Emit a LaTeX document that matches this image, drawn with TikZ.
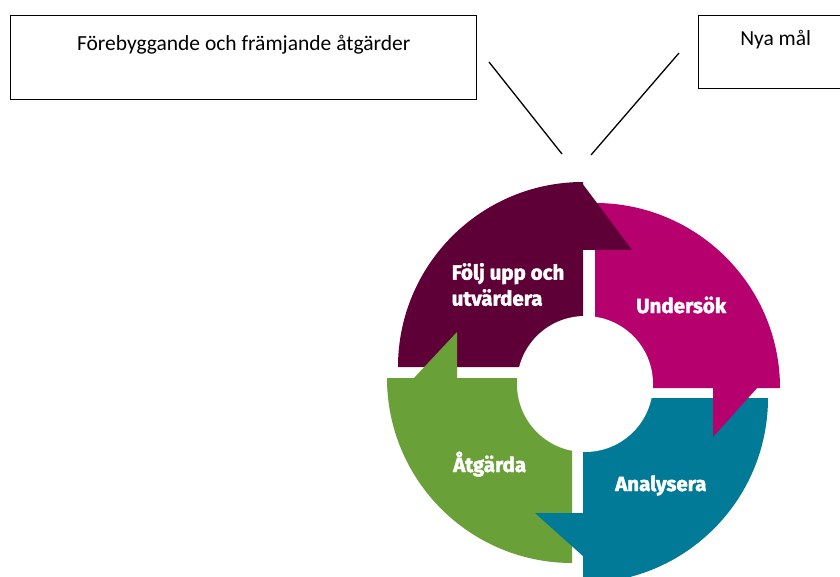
\documentclass[tikz,border=0pt]{standalone}
\usepackage{fontspec}
\setmainfont{Carlito}
\newfontfamily\lblfont{Fira Sans}[BoldFeatures={FakeBold=2}]
\definecolor{cMaroon}{RGB}{94,0,55}
\definecolor{cMagenta}{RGB}{182,0,110}
\definecolor{cTeal}{RGB}{0,122,150}
\definecolor{cGreen}{RGB}{106,160,56}
\tikzset{
  notebox/.style={draw=black, line width=1.4pt, fill=white, rectangle, anchor=north west, inner sep=0pt,
    font=\fontsize{21.5}{26}\selectfont},
  pointer/.style={draw=black, line width=1.3pt},
  ringlabel/.style={text=white, inner sep=0pt, font=\lblfont\fontsize{20.5}{26}\selectfont\bfseries},
}
\begin{document}
\begin{tikzpicture}[x=1pt,y=-1pt]
\clip (0,0) rectangle (840,577);
\fill[white] (0,0) rectangle (840,577);
% boxes
\node[notebox, minimum width=466pt, minimum height=84pt, text height=15pt, text depth=29pt] (prev) at (10,15) {Förebyggande och främjande åtgärder};
\node[notebox, minimum width=154pt, minimum height=73pt, text height=14pt, text depth=27pt] (goals) at (698,15) {Nya mål};
% pointer lines
\coordinate (l1a) at (489,62);
\coordinate (l1b) at (562,154);
\coordinate (l2a) at (679,53);
\coordinate (l2b) at (591,155);
\draw[pointer] (l1a) -- (l1b);
\draw[pointer] (l2a) -- (l2b);
% ring pieces
\def\RR{185}
\fill[cMaroon]  (583,367) -- ++(-\RR,0) arc[start angle=180,end angle=270,radius=\RR] -- cycle;
\fill[cMagenta] (595,388) -- ++(0,-\RR) arc[start angle=270,end angle=360,radius=\RR] -- cycle;
\fill[cTeal]    (583,398) -- ++(\RR,0) arc[start angle=0,end angle=90,radius=\RR] -- cycle;
\fill[cGreen]   (572,378) -- ++(0,\RR) arc[start angle=90,end angle=180,radius=\RR] -- cycle;
% hole
\fill[white] (585,384) circle[radius=68];
% arrowheads
\fill[cMaroon]  (582,183) -- (582,250) -- (632,250) -- cycle;
\fill[cMagenta] (713,387) -- (758,387) -- (713,437) -- cycle;
\fill[cTeal]    (584,513) -- (584,557) -- (535,513) -- cycle;
\fill[cGreen]   (457,379) -- (413,379) -- (457,332) -- cycle;
% labels
\node[ringlabel, align=left] (follow) at (508,284.5) {Följ upp och\\utvärdera};
\node[ringlabel, anchor=base west] (examine) at (636,313) {Undersök};
\node[ringlabel, anchor=base west] (analyse) at (615,491) {Analysera};
\node[ringlabel, anchor=base west] (act) at (453,472) {Åtgärda};
\end{tikzpicture}
\end{document}
